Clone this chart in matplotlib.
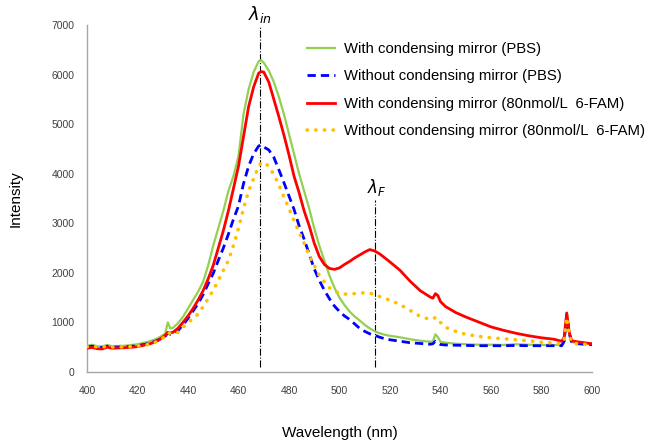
import matplotlib.pyplot as plt

wl = [400, 402, 404, 406, 408, 410, 415, 420, 425, 428, 430, 431, 432, 433, 434, 436, 438, 440,
      442, 444, 446, 448, 450, 452, 454, 456, 458, 460, 462, 464, 466, 468, 469, 470, 472, 474,
      476, 478, 480, 482, 484, 486, 488, 490, 492, 494, 496, 498, 500, 502, 504, 506, 508, 510,
      512, 514, 516, 518, 520, 524, 528, 532, 536, 537, 538, 539, 540, 542, 546, 550, 555, 560,
      565, 570, 575, 580, 585, 588, 589, 590, 591, 592, 594, 597, 600]

with_pbs = [530, 550, 520, 515, 545, 520, 530, 560, 620, 680, 740, 780, 1000, 880, 890, 980, 1110, 1280,
            1450, 1620, 1820, 2150, 2550, 2900, 3250, 3650, 3950, 4350, 5200, 5700, 6050, 6270, 6290, 6240, 6080, 5850,
            5550, 5200, 4800, 4400, 4000, 3650, 3300, 2900, 2550, 2250, 1950, 1700, 1500, 1350, 1220, 1120, 1040, 950,
            880, 820, 780, 750, 730, 700, 660, 630, 610, 620, 760, 700, 610, 590, 570, 560, 550, 550,
            545, 560, 550, 545, 545, 545, 620, 1190, 800, 600, 590, 580, 570]

without_pbs = [500, 520, 500, 495, 520, 500, 505, 530, 580, 640, 690, 720, 790, 760, 760, 830, 950, 1080,
               1230, 1380, 1560, 1780, 1990, 2250, 2500, 2780, 3080, 3350, 3800, 4150, 4400, 4560, 4580, 4540, 4480, 4330,
               4080, 3820, 3550, 3280, 2950, 2680, 2380, 2080, 1850, 1650, 1480, 1330, 1220, 1130, 1060, 970, 880, 820,
               770, 740, 700, 670, 650, 620, 590, 575, 560, 570, 620, 580, 555, 545, 540, 535, 530, 530,
               530, 535, 530, 530, 530, 530, 620, 1150, 780, 580, 570, 560, 550]

with_fam = [480, 495, 470, 465, 500, 480, 490, 510, 570, 630, 700, 740, 800, 790, 800, 880, 1000, 1130,
            1280, 1450, 1640, 1880, 2150, 2500, 2850, 3250, 3700, 4150, 4750, 5350, 5750, 6030, 6060, 6050, 5850, 5500,
            5150, 4780, 4380, 3950, 3620, 3250, 2950, 2600, 2330, 2170, 2090, 2070, 2100, 2170, 2230, 2300, 2360, 2420,
            2470, 2440, 2380, 2300, 2220, 2050, 1830, 1640, 1510, 1490, 1580, 1540, 1420, 1320, 1200, 1110, 1010, 910,
            840, 780, 730, 690, 660, 620, 700, 1190, 800, 630, 610, 590, 570]

without_fam = [510, 525, 505, 500, 525, 505, 505, 520, 560, 620, 680, 720, 790, 780, 770, 800, 900, 990,
               1080, 1170, 1320, 1480, 1650, 1850, 2050, 2250, 2550, 2900, 3300, 3650, 3900, 4150, 4220, 4230, 4150, 3980,
               3780, 3530, 3300, 3050, 2820, 2600, 2350, 2150, 1950, 1820, 1700, 1630, 1590, 1570, 1580, 1580, 1590, 1600,
               1590, 1560, 1520, 1480, 1450, 1360, 1240, 1120, 1060, 1070, 1100, 1080, 1000, 900, 820, 760, 720, 690,
               670, 650, 630, 600, 585, 575, 650, 1100, 750, 590, 570, 560, 550]

lam_in = 468.5
lam_f = 514

plt.rcParams['font.family'] = ['Liberation Sans', 'DejaVu Sans']

fig = plt.figure(figsize=(6.62, 4.41), dpi=100)
ax = fig.add_axes([0.1314, 0.1565, 0.7628, 0.7868])

ax.plot(wl, with_pbs, color='#92D050', lw=1.6, label='With condensing mirror (PBS)', zorder=3)
ax.plot(wl, without_pbs, color='#0000FF', lw=2.0, ls=(0, (3, 1.8)), label='Without condensing mirror (PBS)', zorder=3)
ax.plot(wl, with_fam, color='#FF0000', lw=2.0, label='With condensing mirror (80nmol/L  6-FAM)', zorder=4)
ax.plot(wl, without_fam, color='#FFC000', lw=2.6, ls=(0, (0.1, 2.3)), dash_capstyle='round',
        label='Without condensing mirror (80nmol/L  6-FAM)', zorder=4)

ax.plot([lam_in, lam_in], [100, 6960], color='black', lw=0.8, ls='-.', zorder=2, clip_on=False)
ax.plot([lam_f, lam_f], [100, 3470], color='black', lw=0.8, ls='-.', zorder=2)
ax.text(lam_in, 7010, r'$\lambda_{in}$', ha='center', va='bottom', fontsize=13)
ax.text(lam_f + 0.6, 3520, r'$\lambda_F$', ha='center', va='bottom', fontsize=12)

ax.set_xlim(400, 600)
ax.set_ylim(0, 7000)
ax.set_xticks(range(400, 601, 20))
ax.set_yticks(range(0, 7001, 1000))
ax.tick_params(length=0, labelsize=7.5, colors='#404040')
ax.tick_params(axis='x', pad=10)
ax.tick_params(axis='y', pad=9)
for s in ['top', 'right']:
    ax.spines[s].set_visible(False)
for s in ['left', 'bottom']:
    ax.spines[s].set_color('#a6a6a6')
    ax.spines[s].set_linewidth(1.0)

ax.set_xlabel('Wavelength (nm)', fontsize=11, labelpad=22)
ax.set_ylabel('Intensity', fontsize=11, labelpad=21)

fig.legend(loc='upper left', bbox_to_anchor=(307 / 662, 1 - 42 / 441), frameon=False,
           fontsize=10.7, handlelength=1.9, handletextpad=0.6, labelspacing=0.9,
           borderpad=0, borderaxespad=0)

fig.savefig('out.png', dpi=100)
